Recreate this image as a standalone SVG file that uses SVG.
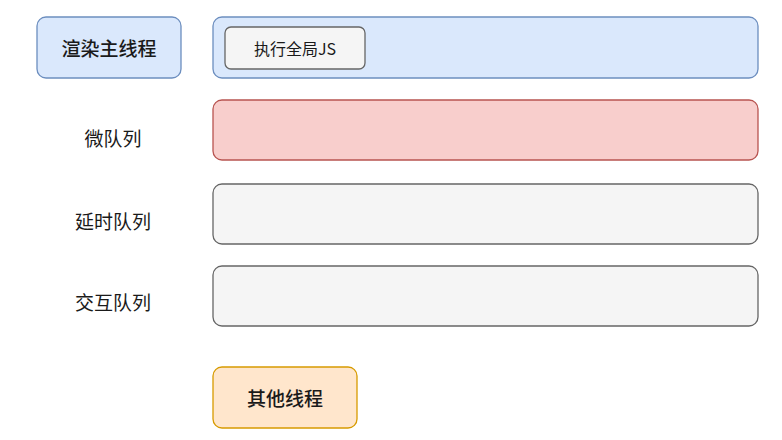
<svg xmlns="http://www.w3.org/2000/svg" width="782" height="440" viewBox="0 0 782 440">
<style>
.t{font-family:"Noto Sans CJK SC","Noto Sans",sans-serif;fill:#1a1a1a;text-anchor:middle;dominant-baseline:central;font-weight:400}
.big{font-size:19px}
.hd{font-weight:500}
.sm{font-size:16px}
.blue{fill:#dae8fc;stroke:#6c8ebf;stroke-width:1.3}
.red{fill:#f8cecc;stroke:#b85450;stroke-width:1.3}
.gray{fill:#f5f5f5;stroke:#666666;stroke-width:1.3}
.orange{fill:#ffe6cc;stroke:#d79b00;stroke-width:1.3}
</style>
<rect width="782" height="440" fill="#ffffff"/>
<g id="main-thread">
<rect class="blue" x="37" y="17" width="144" height="61" rx="9"/>
<text class="t big hd" x="109" y="47">渲染主线程</text>
</g>
<g id="main-bar">
<rect class="blue" x="213" y="17" width="545" height="61" rx="9"/>
</g>
<g id="exec-js">
<rect class="gray" x="225" y="27" width="140" height="42" rx="6"/>
<text class="t sm" x="295" y="48">执行全局JS</text>
</g>
<g id="micro-queue">
<text class="t big" x="113" y="137">微队列</text>
<rect class="red" x="213" y="100" width="545" height="60" rx="9"/>
</g>
<g id="delay-queue">
<text class="t big" x="113" y="220">延时队列</text>
<rect class="gray" x="213" y="184" width="545" height="60" rx="9"/>
</g>
<g id="interact-queue">
<text class="t big" x="113" y="301">交互队列</text>
<rect class="gray" x="213" y="266" width="545" height="60" rx="9"/>
</g>
<g id="other-thread">
<rect class="orange" x="213" y="367" width="144" height="61" rx="9"/>
<text class="t big hd" x="285" y="397">其他线程</text>
</g>
<g id="connectors"></g>
</svg>
